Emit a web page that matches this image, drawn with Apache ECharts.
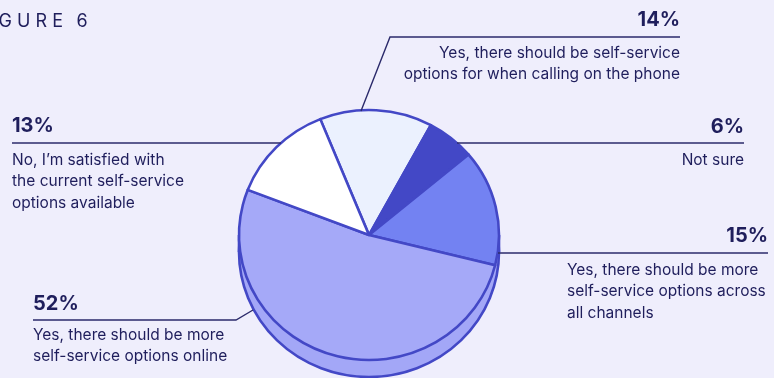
<!DOCTYPE html>
<html>
<head>
<meta charset="utf-8">
<script src="https://cdn.jsdelivr.net/npm/echarts@6/dist/echarts.min.js"></script>
<style>
  html, body { margin: 0; padding: 0; background: #EFEEFC; }
  #chart { width: 774px; height: 378px; }
</style>
</head>
<body>
<div id="chart"></div>
<script>
// Survey answers, in clockwise order starting from the top of the pie
const categories = [
  'Yes, there should be self-service options for when calling on the phone',
  'Not sure',
  'Yes, there should be more self-service options across all channels',
  'Yes, there should be more self-service options online',
  'No, I\u2019m satisfied with the current self-service options available'
];
const values = [14, 6, 15, 52, 13];
const descLines = [
  ['Yes, there should be self-service', 'options for when calling on the phone'],
  ['Not sure'],
  ['Yes, there should be more', 'self-service options across', 'all channels'],
  ['Yes, there should be more', 'self-service options online'],
  ['No, I\u2019m satisfied with', 'the current self-service', 'options available']
];
const sliceColors = ['#EBF1FE', '#4348C6', '#7382F2', '#A5A9F8', '#FFFFFF'];

const EDGE = '#4348C6';
const INK = '#1F1E5C';
const SIDE = '#A3A7F7';
const CX = 369, CY = 235, RX = 130, RY = 125, DEPTH = 17;
const START = -22; // degrees, clockwise from 12 o'clock

const total = values.reduce((a, b) => a + b, 0);
const cumulative = [];
values.reduce((acc, v) => { cumulative.push(acc); return acc + v; }, 0);
const toRad = d => (d - 90) * Math.PI / 180;

function renderSlice(params, api) {
  const i = params.dataIndex;
  const v = api.value(0);
  const a0 = START + cumulative[i] / total * 360;
  const a1 = a0 + v / total * 360;
  return {
    type: 'sector',
    originX: CX, originY: CY, scaleY: RY / RX,
    shape: { cx: CX, cy: CY, r: RX, r0: 0, startAngle: toRad(a0), endAngle: toRad(a1), clockwise: true },
    style: { fill: sliceColors[i], stroke: EDGE, lineWidth: 2.6, lineJoin: 'round' }
  };
}

// Thickness of the disc, drawn underneath the top face
function renderSide() {
  return {
    type: 'group',
    children: [
      {
        type: 'circle',
        originX: CX, originY: CY + DEPTH, scaleY: RY / RX,
        shape: { cx: CX, cy: CY + DEPTH, r: RX },
        style: { fill: SIDE, stroke: EDGE, lineWidth: 2.6 }
      },
      {
        type: 'rect',
        shape: { x: CX - RX, y: CY, width: RX * 2, height: DEPTH },
        style: { fill: SIDE }
      },
      {
        type: 'line',
        shape: { x1: CX - RX, y1: CY, x2: CX - RX, y2: CY + DEPTH },
        style: { stroke: EDGE, lineWidth: 2.6 }
      },
      {
        type: 'line',
        shape: { x1: CX + RX, y1: CY, x2: CX + RX, y2: CY + DEPTH },
        style: { stroke: EDGE, lineWidth: 2.6 }
      }
    ]
  };
}

// Callout layout per slice: percent anchor, description anchor, leader line
const callouts = [
  { px: 680, py: 20, pAlign: 'right', dx: 680, dy: 53, dAlign: 'right', line: [[680, 37], [390, 37], [361, 111]] },
  { px: 744, py: 127, pAlign: 'right', dx: 744, dy: 160, dAlign: 'right', line: [[744, 143], [457, 143]] },
  { px: 768, py: 236, pAlign: 'right', dx: 567, dy: 270, dAlign: 'left', line: [[768, 253], [498, 253]] },
  { px: 33, py: 304, pAlign: 'left', dx: 33, dy: 335, dAlign: 'left', line: [[33, 320], [236, 320], [253, 310]] },
  { px: 12, py: 126, pAlign: 'left', dx: 12, dy: 160, dAlign: 'left', line: [[12, 143], [281, 143]] }
];
const LINE_H = 21.5;
const FONT = 'Inter, "Noto Sans", sans-serif';

const graphics = [
  {
    type: 'text', x: -27, y: 22, z: 10,
    style: { text: 'F I G U R E  \u20096', font: '400 18px ' + FONT, fill: INK, textAlign: 'left', textVerticalAlign: 'middle' }
  }
];
callouts.forEach((c, i) => {
  graphics.push({
    type: 'polyline', z: 5,
    shape: { points: c.line },
    style: { stroke: '#2B2A6B', lineWidth: 1.4, fill: null }
  });
  graphics.push({
    type: 'text', x: c.px, y: c.py, z: 10,
    style: { text: values[i] + '%', font: '700 20px ' + FONT, fill: INK, textAlign: c.pAlign, textVerticalAlign: 'middle' }
  });
  descLines[i].forEach((t, k) => {
    graphics.push({
      type: 'text', x: c.dx, y: c.dy + k * LINE_H, z: 10,
      style: { text: t, font: '400 15.5px ' + FONT, fill: INK, textAlign: c.dAlign, textVerticalAlign: 'middle' }
    });
  });
});

const chart = echarts.init(document.getElementById('chart'), null, { renderer: 'canvas' });
chart.setOption({
  backgroundColor: '#EFEEFC',
  animation: false,
  graphic: graphics,
  series: [
    {
      type: 'custom', name: 'side', coordinateSystem: 'none', z: 1,
      renderItem: renderSide, data: [[0]], silent: true
    },
    {
      type: 'custom', name: 'answers', coordinateSystem: 'none', z: 2,
      renderItem: renderSlice,
      data: values.map((v, i) => ({ name: categories[i], value: [v] }))
    }
  ]
});
</script>
</body>
</html>
